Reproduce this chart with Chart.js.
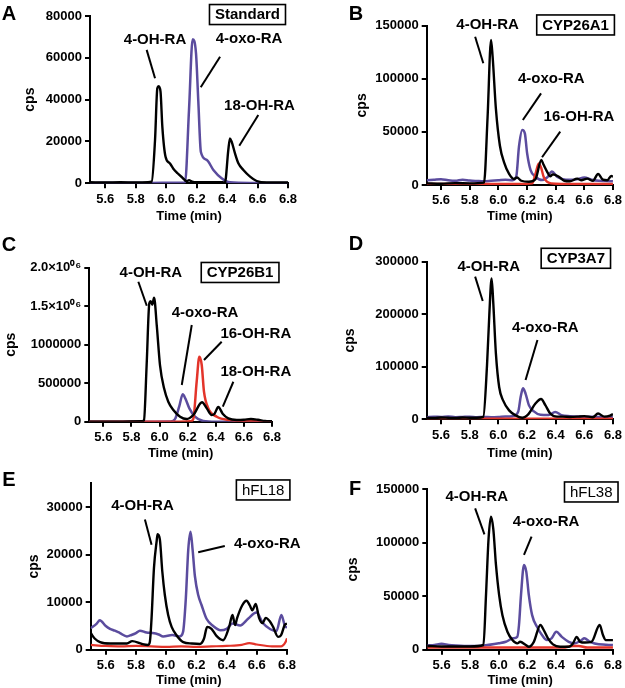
<!DOCTYPE html>
<html lang="en">
<head>
  <meta charset="UTF-8">
  <title>RA metabolite chromatograms</title>
  <script src="https://cdn.jsdelivr.net/npm/chart.js@4/dist/chart.umd.min.js"></script>
  <style>
    body { margin: 0; background: #fff; }
    #wrap { position: relative; width: 625px; height: 688px; overflow: hidden; }
    canvas { position: absolute; }
  </style>
</head>
<body>
<div id="wrap">
  <canvas id="pA"></canvas>
  <canvas id="pB"></canvas>
  <canvas id="pC"></canvas>
  <canvas id="pD"></canvas>
  <canvas id="pE"></canvas>
  <canvas id="pF"></canvas>
</div>
<script>
// ---- data (time in min, signal in cps) ----
const xTicks = [5.6, 5.8, 6.0, 6.2, 6.4, 6.6, 6.8];

// A – Standard
const aBlackT = [5.5, 5.6, 5.7, 5.8, 5.88, 5.905, 5.927, 5.942, 5.951, 5.963, 5.975, 5.996, 6.025, 6.047, 6.075, 6.102, 6.135, 6.15, 6.17, 6.2, 6.3, 6.37, 6.386, 6.408, 6.419, 6.43, 6.452, 6.474, 6.507, 6.551, 6.594, 6.66, 6.8];
const aBlackV = [500, 400, 500, 400, 500, 800, 20700, 45400, 46400, 43800, 27000, 12700, 9500, 7000, 4800, 3000, 1000, 1500, 800, 500, 500, 500, 400, 15900, 21500, 19900, 14300, 9600, 6400, 3200, 1100, 400, 400];
const aPurpleT = [5.5, 5.7, 5.9, 6.05, 6.124, 6.15, 6.174, 6.196, 6.211, 6.228, 6.266, 6.31, 6.364, 6.419, 6.55, 6.8];
const aPurpleV = [200, 300, 200, 300, 300, 35000, 68900, 62100, 39400, 15000, 11200, 6400, 2400, 500, 200, 200];
const aTicks = [0, 20000, 40000, 60000, 80000];

// B – CYP26A1
const bBlackT = [5.5, 5.6, 5.7, 5.8, 5.9, 5.925, 5.949, 5.96, 5.983, 6.011, 6.04, 6.075, 6.109, 6.13, 6.16, 6.213, 6.259, 6.3, 6.316, 6.339, 6.362, 6.38, 6.42, 6.46, 6.5, 6.55, 6.58, 6.62, 6.66, 6.696, 6.73, 6.76, 6.788, 6.8];
const bBlackV = [1500, 1200, 1800, 1500, 2200, 64300, 136500, 121000, 71700, 37000, 21300, 10400, 5700, 7000, 4000, 3000, 5400, 23500, 19000, 12900, 8200, 10000, 8000, 4000, 3500, 6000, 4500, 6000, 4000, 10400, 5000, 4500, 8500, 8000];
const bPurpleT = [5.5, 5.55, 5.6, 5.65, 5.7, 5.75, 5.8, 5.85, 5.9, 5.95, 6.0, 6.05, 6.1, 6.125, 6.144, 6.167, 6.185, 6.201, 6.225, 6.259, 6.305, 6.34, 6.374, 6.41, 6.45, 6.5, 6.55, 6.6, 6.65, 6.7, 6.75, 6.8];
const bPurpleV = [4500, 5000, 5500, 4500, 4000, 5000, 4200, 3800, 3500, 4000, 4500, 5000, 4500, 7800, 36100, 51800, 48600, 29800, 14100, 7800, 4700, 7000, 12600, 7800, 5500, 5000, 5500, 7000, 5000, 4000, 3800, 3500];
const bRedT = [5.5, 5.7, 5.9, 6.1, 6.236, 6.259, 6.282, 6.298, 6.316, 6.339, 6.37, 6.45, 6.6, 6.8];
const bRedV = [1000, 900, 1000, 900, 1500, 10400, 20400, 16600, 7800, 3100, 1500, 1000, 900, 900];
const bTicks = [0, 50000, 100000, 150000];

// C – CYP26B1
const cBlackT = [5.5, 5.7, 5.87, 5.889, 5.908, 5.927, 5.937, 5.948, 5.961, 5.98, 6.003, 6.032, 6.062, 6.098, 6.146, 6.193, 6.24, 6.302, 6.336, 6.371, 6.39, 6.418, 6.449, 6.489, 6.549, 6.6, 6.65, 6.7, 6.75, 6.8];
const cBlackV = [0, 0, 5000, 20000, 736000, 1537000, 1565000, 1520000, 1610000, 1250000, 736000, 433000, 260000, 152000, 65000, 35000, 87000, 252000, 173000, 87000, 100000, 191000, 104000, 43000, 22000, 25000, 35000, 25000, 9000, 5000];
const cPurpleT = [5.5, 5.8, 6.08, 6.11, 6.14, 6.165, 6.183, 6.212, 6.252, 6.311, 6.4, 6.8];
const cPurpleV = [0, 0, 3000, 35000, 199000, 356000, 303000, 173000, 65000, 9000, 0, 0];
const cRedT = [5.5, 5.8, 6.1, 6.22, 6.24, 6.264, 6.283, 6.3, 6.316, 6.347, 6.407, 6.501, 6.62, 6.8];
const cRedV = [0, 0, 0, 5000, 35000, 520000, 844000, 736000, 390000, 173000, 65000, 22000, 9000, 0];
const cTicks = [0, 500000, 1000000, 1500000, 2000000];
const cTickLabels = ['0', '500000', '1000000', '1.5×10⁰⁶', '2.0×10⁰⁶'];

// D – CYP3A7
const dBlackT = [5.5, 5.55, 5.6, 5.65, 5.7, 5.75, 5.8, 5.85, 5.895, 5.921, 5.937, 5.953, 5.964, 5.983, 6.006, 6.033, 6.075, 6.121, 6.167, 6.21, 6.259, 6.298, 6.328, 6.362, 6.41, 6.45, 6.5, 6.55, 6.6, 6.66, 6.696, 6.74, 6.78, 6.8];
const dBlackV = [3000, 2500, 3500, 3000, 2500, 3500, 3000, 3000, 4500, 103000, 199000, 268000, 225000, 125000, 61000, 36000, 17000, 7500, 3000, 10000, 30000, 38600, 27000, 11000, 5000, 5000, 4500, 5000, 6000, 4000, 11000, 5000, 7000, 10000];
const dPurpleT = [5.5, 5.55, 5.6, 5.65, 5.7, 5.75, 5.8, 5.85, 5.9, 5.95, 6.0, 6.05, 6.1, 6.139, 6.156, 6.172, 6.19, 6.213, 6.248, 6.294, 6.35, 6.397, 6.44, 6.5, 6.6, 6.7, 6.8];
const dPurpleV = [4000, 5000, 4500, 5500, 4000, 4500, 5000, 4000, 4500, 4000, 4500, 5500, 6000, 15000, 43000, 59000, 49000, 27000, 15000, 8500, 8000, 14000, 8000, 6000, 5000, 4500, 4000];
const dRedT = [5.5, 6.0, 6.5, 6.8];
const dRedV = [1000, 1000, 1000, 1000];
const dTicks = [0, 100000, 200000, 300000];

// E – hFL18
const eBlackT = [5.5, 5.528, 5.562, 5.63, 5.74, 5.775, 5.84, 5.88, 5.892, 5.903, 5.919, 5.937, 5.943, 5.958, 5.974, 5.991, 6.013, 6.036, 6.069, 6.113, 6.17, 6.223, 6.25, 6.271, 6.3, 6.333, 6.377, 6.417, 6.439, 6.456, 6.47, 6.503, 6.532, 6.554, 6.57, 6.593, 6.615, 6.638, 6.659, 6.686, 6.708, 6.741, 6.76, 6.785, 6.8];
const eBlackV = [3500, 2300, 1600, 1300, 1300, 1800, 1200, 1000, 1700, 6600, 17200, 22900, 24300, 23200, 16500, 11500, 7300, 4800, 3000, 1600, 1300, 1200, 2300, 4800, 4400, 2900, 2000, 4800, 7300, 5200, 6700, 9300, 10300, 9300, 8300, 9600, 6700, 5600, 6700, 6000, 4800, 2700, 3000, 5200, 5500];
const ePurpleT = [5.5, 5.54, 5.56, 5.6, 5.628, 5.66, 5.694, 5.74, 5.77, 5.8, 5.826, 5.87, 5.91, 5.95, 5.98, 6.04, 6.09, 6.112, 6.13, 6.146, 6.161, 6.175, 6.19, 6.212, 6.234, 6.267, 6.311, 6.36, 6.4, 6.44, 6.49, 6.542, 6.598, 6.64, 6.69, 6.73, 6.763, 6.785, 6.8];
const ePurpleV = [4500, 5500, 6200, 5000, 4400, 4000, 3500, 2800, 3100, 3500, 4000, 3600, 3500, 3200, 2800, 3100, 2800, 3800, 10800, 21000, 24800, 21000, 15500, 11500, 9400, 6500, 5000, 4100, 4400, 5500, 5100, 6500, 7800, 5600, 4300, 3900, 7300, 5100, 4600];
const eRedT = [5.5, 5.6, 5.7, 5.8, 5.9, 6.0, 6.1, 6.2, 6.3, 6.4, 6.5, 6.55, 6.6, 6.7, 6.76, 6.79, 6.8];
const eRedV = [1000, 800, 700, 800, 700, 600, 700, 600, 700, 800, 1000, 1400, 1100, 700, 700, 1600, 2400];
const eTicks = [0, 10000, 20000, 30000];

// F – hFL38
const fBlackT = [5.5, 5.6, 5.7, 5.8, 5.893, 5.911, 5.929, 5.946, 5.962, 5.981, 6.003, 6.026, 6.061, 6.096, 6.13, 6.15, 6.19, 6.211, 6.246, 6.292, 6.315, 6.345, 6.38, 6.43, 6.49, 6.52, 6.546, 6.57, 6.604, 6.65, 6.707, 6.73, 6.75, 6.8];
const fBlackV = [3500, 3000, 3000, 3000, 4400, 51000, 104000, 124400, 113000, 79000, 51000, 32300, 16800, 9000, 5900, 7400, 4400, 2800, 7400, 23100, 18400, 10600, 5000, 2800, 2800, 5900, 12000, 7400, 6700, 7400, 23100, 13700, 9000, 9000];
const fPurpleT = [5.5, 5.55, 5.6, 5.65, 5.7, 5.8, 5.9, 6.0, 6.05, 6.1, 6.13, 6.142, 6.156, 6.177, 6.193, 6.211, 6.234, 6.268, 6.303, 6.338, 6.37, 6.403, 6.442, 6.49, 6.53, 6.58, 6.599, 6.64, 6.7, 6.8];
const fPurpleV = [4000, 4500, 5500, 4500, 4000, 3500, 4000, 6000, 7400, 10600, 12000, 23100, 51000, 79200, 73000, 51000, 32300, 21400, 13700, 9000, 10600, 16800, 12000, 7400, 5900, 9000, 10600, 7400, 5000, 4400];
const fRedT = [5.5, 6.0, 6.45, 6.52, 6.56, 6.62, 6.8];
const fRedV = [2000, 2000, 2000, 3500, 3500, 2000, 2000];
const fTicks = [0, 50000, 100000, 150000];

// ---- styling ----
const FONT = '"Liberation Sans", Arial, sans-serif';
const BLACK = '#000000';
const PURPLE = '#5b4c9e';
const RED = '#e3342a';

const pts = (t, v) => t.map((x, i) => ({ x, y: v[i] }));

function trace(t, v, color, w) {
  return {
    data: pts(t, v), borderColor: color, borderWidth: w, pointRadius: 0,
    fill: false, cubicInterpolationMode: 'monotone'
  };
}

// draws panel letter, peak labels with pointer lines and the sample box
const notesPlugin = {
  id: 'notes',
  afterDraw(chart, args, o) {
    const ctx = chart.ctx, xs = chart.scales.x, ys = chart.scales.y;
    ctx.save();
    ctx.fillStyle = '#000';
    ctx.strokeStyle = '#000';
    ctx.textAlign = 'center';
    ctx.textBaseline = 'middle';
    ctx.font = 'bold 20px ' + FONT;
    ctx.fillText(o.letter, o.lx, o.ly);

    ctx.font = 'bold 15px ' + FONT;
    ctx.lineWidth = 2;
    o.labels.forEach(l => {
      ctx.fillText(l.text, xs.getPixelForValue(l.t), ys.getPixelForValue(l.v));
      ctx.beginPath();
      ctx.moveTo(xs.getPixelForValue(l.line[0]), ys.getPixelForValue(l.line[1]));
      ctx.lineTo(xs.getPixelForValue(l.line[2]), ys.getPixelForValue(l.line[3]));
      ctx.stroke();
    });

    const b = o.box;
    ctx.font = (b.bold ? 'bold ' : '') + b.size + 'px ' + FONT;
    const bx = xs.getPixelForValue(b.t), by = ys.getPixelForValue(b.v);
    const bw = ctx.measureText(b.text).width + 11, bh = 20;
    ctx.fillText(b.text, bx, by + 0.5);
    ctx.lineWidth = 1.6;
    ctx.strokeRect(bx - bw / 2, by - bh / 2, bw, bh);
    ctx.restore();
  }
};

function panel(id, g, datasets, yMax, yTicks, yLabels, notes) {
  const cv = document.getElementById(id);
  cv.width = g.w; cv.height = g.h;
  cv.style.left = g.x0 + 'px'; cv.style.top = g.y0 + 'px';
  const tickFont = { family: FONT, size: 13, weight: 'bold' };
  new Chart(cv, {
    type: 'line',
    data: { datasets },
    plugins: [notesPlugin],
    options: {
      responsive: false,
      animation: false,
      devicePixelRatio: 1,
      layout: {
        autoPadding: false,
        padding: { left: 0, top: g.T - g.y0, right: g.x0 + g.w - g.R, bottom: 0 }
      },
      plugins: {
        legend: { display: false },
        tooltip: { enabled: false },
        notes
      },
      scales: {
        x: {
          type: 'linear', min: 5.5, max: 6.8,
          afterBuildTicks: s => { s.ticks = xTicks.map(v => ({ value: v })); },
          afterFit: s => { s.height = g.y0 + g.h - g.B; },
          ticks: { callback: v => v.toFixed(1), font: tickFont, color: '#000', padding: 3, maxRotation: 0, autoSkip: false },
          grid: { drawOnChartArea: false, color: '#000', lineWidth: 2, tickLength: 5 },
          border: { color: '#000', width: 2 },
          title: { display: true, text: 'Time (min)', color: '#000', font: { family: FONT, size: 13, weight: 'bold' }, padding: g.xt }
        },
        y: {
          type: 'linear', min: 0, max: yMax,
          afterBuildTicks: s => { s.ticks = yTicks.map(v => ({ value: v })); },
          afterFit: s => { s.width = g.L - g.x0; },
          ticks: { callback: (v, i) => yLabels[i], font: tickFont, color: '#000', padding: 3, autoSkip: false },
          grid: { drawOnChartArea: false, color: '#000', lineWidth: 2, tickLength: 5 },
          border: { color: '#000', width: 2 },
          title: { display: true, text: 'cps', color: '#000', font: { family: FONT, size: 14, weight: 'bold' }, padding: g.yt }
        }
      }
    }
  });
}

const lbl = ticks => ticks.map(String);

panel('pA', { x0: 0, y0: 0, w: 310, h: 228, L: 90, R: 288, T: 16, B: 183.3, xt: 4, yt: 22 },
  [trace(aBlackT, aBlackV, BLACK, 2.4), trace(aPurpleT, aPurpleV, PURPLE, 2.5)],
  80000, aTicks, lbl(aTicks),
  { letter: 'A', lx: 9, ly: 14,
    labels: [
      { text: '4-OH-RA', t: 5.927, v: 68500, line: [5.872, 63800, 5.927, 50200] },
      { text: '4-oxo-RA', t: 6.544, v: 69000, line: [6.354, 60500, 6.227, 45900] },
      { text: '18-OH-RA', t: 6.613, v: 37000, line: [6.605, 32700, 6.48, 18000] }
    ],
    box: { text: 'Standard', t: 6.534, v: 80700, bold: true, size: 15 } });

panel('pB', { x0: 310, y0: 0, w: 315, h: 228, L: 426.7, R: 615, T: 25.7, B: 185, xt: 4, yt: 43.3 },
  [trace(bBlackT, bBlackV, BLACK, 2.4), trace(bRedT, bRedV, RED, 2.4), trace(bPurpleT, bPurpleV, PURPLE, 2.5)],
  150000, bTicks, lbl(bTicks),
  { letter: 'B', lx: 46, ly: 14,
    labels: [
      { text: '4-OH-RA', t: 5.925, v: 150700, line: [5.838, 139600, 5.895, 114600] },
      { text: '4-oxo-RA', t: 6.37, v: 99800, line: [6.298, 86300, 6.171, 61200] },
      { text: '16-OH-RA', t: 6.563, v: 64300, line: [6.432, 50200, 6.305, 26100] }
    ],
    box: { text: 'CYP26A1', t: 6.539, v: 150700, bold: true, size: 15 } });

panel('pC', { x0: 0, y0: 228, w: 310, h: 234, L: 89.3, R: 272, T: 267.7, B: 421.7, xt: 1, yt: 3 },
  [trace(cBlackT, cBlackV, BLACK, 2.4), trace(cRedT, cRedV, RED, 2.5), trace(cPurpleT, cPurpleV, PURPLE, 2.5)],
  2000000, cTicks, cTickLabels,
  { letter: 'C', lx: 9, ly: 17,
    labels: [
      { text: '4-OH-RA', t: 5.938, v: 1927000, line: [5.849, 1818000, 5.909, 1506000] },
      { text: '4-oxo-RA', t: 6.324, v: 1408000, line: [6.229, 1256000, 6.158, 477000] },
      { text: '16-OH-RA', t: 6.685, v: 1135000, line: [6.442, 1039000, 6.316, 801000] },
      { text: '18-OH-RA', t: 6.685, v: 649000, line: [6.525, 519000, 6.45, 195000] }
    ],
    box: { text: 'CYP26B1', t: 6.573, v: 1938000, bold: true, size: 15 } });

panel('pD', { x0: 310, y0: 228, w: 315, h: 234, L: 426.7, R: 615, T: 261.7, B: 419.3, xt: 1, yt: 31.6 },
  [trace(dBlackT, dBlackV, BLACK, 2.4), trace(dRedT, dRedV, RED, 2.5), trace(dPurpleT, dPurpleV, PURPLE, 2.5)],
  300000, dTicks, lbl(dTicks),
  { letter: 'D', lx: 46, ly: 16,
    labels: [
      { text: '4-OH-RA', t: 5.933, v: 290500, line: [5.838, 271500, 5.891, 225200] },
      { text: '4-oxo-RA', t: 6.328, v: 173200, line: [6.273, 151000, 6.19, 74800] }
    ],
    box: { text: 'CYP3A7', t: 6.541, v: 306500, bold: true, size: 15 } });

panel('pE', { x0: 0, y0: 462, w: 310, h: 226, L: 90.7, R: 287, T: 483.3, B: 649.7, xt: 0, yt: 25.6 },
  [trace(eBlackT, eBlackV, BLACK, 2.4), trace(eRedT, eRedV, RED, 2.2), trace(ePurpleT, ePurpleV, PURPLE, 2.5)],
  35000, eTicks, lbl(eTicks),
  { letter: 'E', lx: 9, ly: 18,
    labels: [
      { text: '4-OH-RA', t: 5.843, v: 30200, line: [5.859, 27400, 5.903, 22100] },
      { text: '4-oxo-RA', t: 6.669, v: 22300, line: [6.388, 21800, 6.212, 20500] }
    ],
    box: { text: 'hFL18', t: 6.642, v: 33600, bold: false, size: 15 } });

panel('pF', { x0: 310, y0: 462, w: 315, h: 226, L: 427.3, R: 615, T: 489.3, B: 649.7, xt: 0, yt: 34.6 },
  [trace(fBlackT, fBlackV, BLACK, 2.4), trace(fRedT, fRedV, RED, 2.5), trace(fPurpleT, fPurpleV, PURPLE, 2.5)],
  150000, fTicks, lbl(fTicks),
  { letter: 'F', lx: 45, ly: 27,
    labels: [
      { text: '4-OH-RA', t: 5.846, v: 143100, line: [5.835, 132200, 5.9, 107900] },
      { text: '4-oxo-RA', t: 6.331, v: 119100, line: [6.23, 105700, 6.177, 88600] }
    ],
    box: { text: 'hFL38', t: 6.648, v: 147500, bold: false, size: 15 } });
</script>
</body>
</html>
